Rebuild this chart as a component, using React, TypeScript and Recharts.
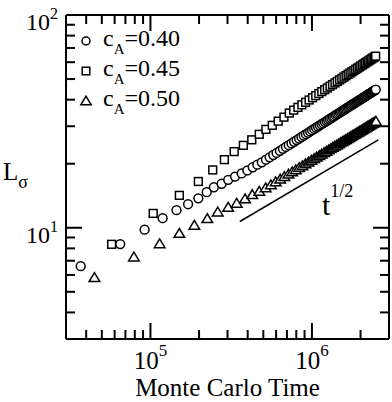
import React from 'react';
import { ScatterChart, Scatter, XAxis, YAxis, ReferenceLine } from 'recharts';

// Monte Carlo time in thousands of MC steps, and domain size L_sigma
const circleTimeK = [37, 65, 92, 119, 145, 171, 198, 223, 247, 276, 303, 334, 367, 398, 430, 459, 489, 519,
  547, 576, 604, 633, 661, 690, 718, 747, 775, 804, 832, 861, 889, 918, 946, 975, 1003, 1032, 1060, 1089,
  1117, 1146, 1174, 1203, 1231, 1260, 1288, 1317, 1345, 1374, 1402, 1431, 1459, 1488, 1516, 1545, 1573,
  1602, 1630, 1659, 1687, 1716, 1744, 1773, 1801, 1830, 1858, 1887, 1915, 1944, 1972, 2001, 2029, 2058,
  2086, 2115, 2143, 2172, 2200, 2229, 2257, 2286, 2314, 2343, 2371, 2400, 2428, 2457, 2485];
const circleL = [6.60, 8.38, 9.79, 11.09, 12.09, 12.9, 13.75, 14.7, 15.5, 16.1, 16.8, 17.4, 18.0, 18.6, 19.25, 19.8, 20.3, 20.9,
  21.43, 21.98, 22.48, 23.00, 23.49, 23.98, 24.45, 24.92, 25.37, 25.83, 26.26, 26.70, 27.12, 27.54, 27.95,
  28.36, 28.75, 29.15, 29.53, 29.92, 30.29, 30.67, 31.03, 31.39, 31.74, 32.10, 32.44, 32.80, 33.13, 33.47,
  33.80, 34.14, 34.47, 34.79, 35.11, 35.43, 35.74, 36.06, 36.36, 36.67, 36.98, 37.28, 37.57, 37.87, 38.16,
  38.46, 38.74, 39.03, 39.31, 39.60, 39.88, 40.15, 40.43, 40.70, 40.97, 41.25, 41.51, 41.78, 42.04, 42.31,
  42.56, 42.83, 43.08, 43.34, 43.59, 43.85, 44.09, 44.35, 44.60];

const squareTimeK = [57.5, 104, 151, 198, 243, 287, 330, 376, 424, 472, 519, 568, 618, 671, 724,
  771, 819, 866, 914, 961, 1009, 1056, 1104, 1151, 1199, 1246, 1294, 1341, 1389, 1436, 1484, 1531, 1579,
  1626, 1674, 1721, 1769, 1816, 1864, 1911, 1959, 2006, 2054, 2101, 2149, 2196, 2244, 2291, 2339, 2386,
  2434, 2481];
const squareL = [8.36, 11.68, 14.2, 16.5, 18.7, 20.9, 22.8, 24.4, 25.9, 27.5, 29.0, 30.3, 31.7, 33.1, 34.6,
  35.71, 36.80, 37.84, 38.88, 39.86, 40.85, 41.79, 42.73, 43.63, 44.53, 45.39, 46.26, 47.09, 47.93, 48.73,
  49.53, 50.32, 51.10, 51.85, 52.61, 53.34, 54.08, 54.79, 55.51, 56.21, 56.91, 57.60, 58.28, 58.95, 59.61,
  60.26, 60.91, 61.55, 62.19, 62.81, 63.44, 64.05];

const triangleTimeK = [45, 79, 114, 151, 187, 225, 261, 303, 342, 385, 427, 472, 517,
  557, 596, 636, 675, 715, 754, 794, 833, 873, 912, 952, 991, 1031, 1070, 1110, 1149, 1189, 1228, 1268,
  1307, 1347, 1386, 1426, 1465, 1505, 1544, 1584, 1623, 1663, 1702, 1742, 1781, 1821, 1860, 1900, 1939,
  1979, 2018, 2058, 2097, 2137, 2176, 2216, 2255, 2295, 2334, 2374, 2413, 2453, 2492];
const triangleL = [5.83, 7.28, 8.41, 9.40, 10.26, 11.03, 11.86, 12.47, 13.03, 13.66, 14.31, 14.83, 15.39,
  15.92, 16.43, 16.92, 17.39, 17.85, 18.29, 18.73, 19.15, 19.56, 19.96, 20.35, 20.73, 21.11, 21.47, 21.83,
  22.18, 22.53, 22.87, 23.21, 23.53, 23.86, 24.17, 24.48, 24.79, 25.10, 25.39, 25.69, 25.97, 26.26, 26.55,
  26.83, 27.10, 27.38, 27.65, 27.92, 28.18, 28.45, 28.70, 28.96, 29.21, 29.46, 29.71, 29.96, 30.20, 30.44,
  30.68, 30.92, 31.15, 31.38, 31.62];

// guide line t^(1/2)
const guideT = [3.58e5, 2.575e6];
const guideL = [10.7, 25.9];

const xTicks = [3e4, 4e4, 5e4, 6e4, 7e4, 8e4, 9e4, 1e5, 2e5, 3e5, 4e5, 5e5, 6e5, 7e5, 8e5, 9e5, 1e6, 2e6, 3e6];
const yTicks = [3, 4, 5, 6, 7, 8, 9, 10, 20, 30, 40, 50, 60, 70, 80, 90, 100];
const legendLabels = ['0.40', '0.45', '0.50'];
const xTitle = 'Monte Carlo Time';

const FONT = "'Liberation Serif','Times New Roman',Times,serif";

const toRows = (tk: number[], L: number[]) => tk.map((t, i) => ({ t: t * 1000, L: L[i] }));
const circleData = toRows(circleTimeK, circleL);
const squareData = toRows(squareTimeK, squareL);
const triangleData = toRows(triangleTimeK, triangleL);

const isMajor = (v: number) => Math.abs(Math.log10(v) - Math.round(Math.log10(v))) < 1e-9;
const expOf = (v: number) => String(Math.round(Math.log10(v)));

const MAJ = 16;
const MIN = 9;
const SW = 1.5;

const CircleShape = (p: any) => <circle cx={p.cx} cy={p.cy} r={4.4} fill="#fff" stroke="#000" strokeWidth={SW} />;
const SquareShape = (p: any) => <rect x={p.cx - 3.9} y={p.cy - 3.9} width={7.8} height={7.8} fill="#fff" stroke="#000" strokeWidth={SW} />;
const TriangleShape = (p: any) => (
  <polygon points={`${p.cx},${p.cy - 4.9} ${p.cx - 5.3},${p.cy + 3.9} ${p.cx + 5.3},${p.cy + 3.9}`} fill="#fff" stroke="#000" strokeWidth={SW} />
);

const BottomTick = (props: any) => {
  const { x, y, payload } = props;
  const v = payload.value;
  const major = isMajor(v);
  return (
    <g>
      <line x1={x} x2={x} y1={y} y2={y - (major ? MAJ : MIN)} stroke="#000" strokeWidth={2} />
      {major && (
        <text x={x} y={y + 30} textAnchor="middle" fontFamily={FONT} fontSize={25} fill="#000">
          <tspan>10</tspan>
          <tspan dy={-13} fontSize={17}>{expOf(v)}</tspan>
        </text>
      )}
    </g>
  );
};
const TopTick = (props: any) => {
  const { x, y, payload } = props;
  const major = isMajor(payload.value);
  return <line x1={x} x2={x} y1={y} y2={y + (major ? MAJ : MIN)} stroke="#000" strokeWidth={2} />;
};
const LeftTick = (props: any) => {
  const { x, y, payload } = props;
  const v = payload.value;
  const major = isMajor(v);
  return (
    <g>
      <line x1={x} x2={x + (major ? MAJ : MIN)} y1={y} y2={y} stroke="#000" strokeWidth={2} />
      {major && (
        <text x={x - 8} y={y + 15} textAnchor="end" fontFamily={FONT} fontSize={24} fill="#000">
          <tspan>10</tspan>
          <tspan dy={-11} fontSize={16}>{expOf(v)}</tspan>
        </text>
      )}
    </g>
  );
};
const RightTick = (props: any) => {
  const { x, y, payload } = props;
  const major = isMajor(payload.value);
  return <line x1={x} x2={x - (major ? MAJ : MIN)} y1={y} y2={y} stroke="#000" strokeWidth={2} />;
};

const axisLine = { stroke: '#000', strokeWidth: 2 };

export default function App() {
  const legendShapes = [
    (cx: number, cy: number) => <circle cx={cx} cy={cy} r={4} fill="#fff" stroke="#000" strokeWidth={SW} />,
    (cx: number, cy: number) => <rect x={cx - 3.8} y={cy - 3.8} width={7.6} height={7.6} fill="#fff" stroke="#000" strokeWidth={SW} />,
    (cx: number, cy: number) => <polygon points={`${cx},${cy - 4.8} ${cx - 5.2},${cy + 3.8} ${cx + 5.2},${cy + 3.8}`} fill="#fff" stroke="#000" strokeWidth={SW} />,
  ];
  return (
    <div style={{ position: 'absolute', left: 0, top: 0, width: 392, height: 402, background: '#fff' }}>
      <ScatterChart width={392} height={402} margin={{ top: 14, right: 2, bottom: 62, left: 65 }}>
        <XAxis xAxisId="b" dataKey="t" type="number" scale="log" domain={[3e4, 3e6]} allowDataOverflow
          ticks={xTicks} interval={0} tickSize={0} tickMargin={0} height={1} tickLine={false}
          axisLine={axisLine} tick={<BottomTick />} orientation="bottom" />
        <XAxis xAxisId="top" dataKey="t" type="number" scale="log" domain={[3e4, 3e6]} allowDataOverflow
          ticks={xTicks} interval={0} tickSize={0} tickMargin={0} height={1} tickLine={false}
          axisLine={axisLine} tick={<TopTick />} orientation="top" />
        <YAxis yAxisId="l" dataKey="L" type="number" scale="log" domain={[3, 100]} allowDataOverflow
          ticks={yTicks} interval={0} tickSize={0} tickMargin={0} width={1} tickLine={false}
          axisLine={axisLine} tick={<LeftTick />} orientation="left" />
        <YAxis yAxisId="r" dataKey="L" type="number" scale="log" domain={[3, 100]} allowDataOverflow
          ticks={yTicks} interval={0} tickSize={0} tickMargin={0} width={1} tickLine={false}
          axisLine={axisLine} tick={<RightTick />} orientation="right" />
        <ReferenceLine xAxisId="b" yAxisId="l"
          segment={[{ x: guideT[0], y: guideL[0] }, { x: guideT[1], y: guideL[1] }]}
          stroke="#000" strokeWidth={1.5} />
        <Scatter xAxisId="b" yAxisId="l" data={squareData} shape={SquareShape} isAnimationActive={false} />
        <Scatter xAxisId="b" yAxisId="l" data={circleData} shape={CircleShape} isAnimationActive={false} />
        <Scatter xAxisId="b" yAxisId="l" data={triangleData} shape={TriangleShape} isAnimationActive={false} />
      </ScatterChart>
      <svg width={392} height={402} style={{ position: 'absolute', left: 0, top: 0, pointerEvents: 'none' }}>
        {legendLabels.map((lab, i) => {
          const cy = 41 + i * 30;
          return (
            <g key={lab}>
              {legendShapes[i](86, cy)}
              <text x={103} y={cy + 5} fontFamily={FONT} fontSize={24} fill="#000">
                <tspan>c</tspan>
                <tspan fontSize={15} dy={8}>A</tspan>
                <tspan dy={-8}>{'=' + lab}</tspan>
              </text>
            </g>
          );
        })}
        <text x={3} y={180} fontFamily={FONT} fontSize={25} fill="#000">
          <tspan>L</tspan>
          <tspan fontSize={18} dy={8}>σ</tspan>
        </text>
        <text x={322} y={215} fontFamily={FONT} fontSize={30} fill="#000">
          <tspan>t</tspan>
          <tspan fontSize={18} dy={-18}>1/2</tspan>
        </text>
        <text x={227.5} y={396} textAnchor="middle" fontFamily={FONT} fontSize={25} fill="#000">{xTitle}</text>
      </svg>
    </div>
  );
}
